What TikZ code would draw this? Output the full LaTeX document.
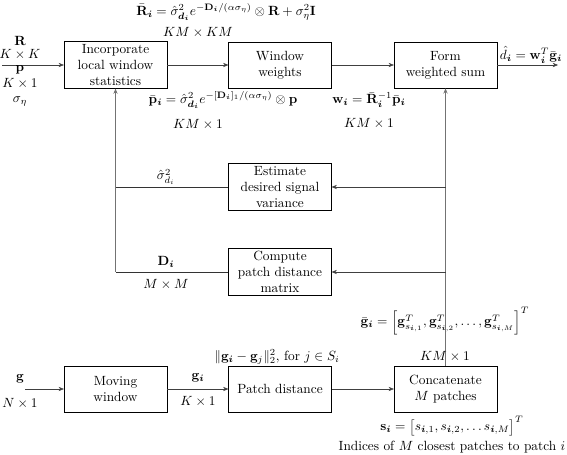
\documentclass[tikz,border=0pt]{standalone}
\usepackage{amsmath,amssymb}
\usetikzlibrary{arrows.meta}

\newcommand{\vi}{\boldsymbol{i}}

\begin{document}
\begin{tikzpicture}[
    x=0.75pt, y=-0.75pt,
    block/.style={draw, minimum width=77pt, minimum height=34.5pt, inner sep=2pt, align=center},
    lbl/.style={inner sep=0.5pt},
    arrow/.style={-{Stealth[length=4pt,width=3.2pt]}, draw=black!75},
    feed/.style={draw=black!55, line width=0.9pt}
]
    \useasboundingbox (0,0) rectangle (567,454);

    % Blocks
    \node[block] (incorporate) at (115.5,65) {Incorporate\\local window\\statistics};
    \node[block] (weights) at (280,65) {Window\\weights};
    \node[block] (sum) at (445.5,65) {Form\\weighted sum};
    \node[block] (estimate) at (280,187) {Estimate\\desired signal\\variance};
    \node[block] (compute) at (280,272) {Compute\\patch distance\\matrix};
    \node[block] (moving) at (115.5,389) {Moving\\window};
    \node[block] (patchdist) at (280,389) {Patch distance};
    \node[block] (concat) at (445.5,389) {Concatenate\\$M$ patches};
    \coordinate (input) at (2,65);
    \coordinate (output) at (558,65);
    \coordinate (ginput) at (25,389);

    % Arrows
    \draw[arrow] (input) -- (incorporate);
    \draw[arrow] (incorporate) -- (weights);
    \draw[arrow] (weights) -- (sum);
    \draw[arrow] (sum) -- (output);
    \draw[arrow] (ginput) -- (moving);
    \draw[arrow] (moving) -- (patchdist);
    \draw[arrow] (patchdist) -- (concat);

    % Feedback paths
    \draw[arrow, feed] (concat.north) -- (sum.south);
    \draw[arrow] (estimate.east -| sum.south) -- (estimate.east);
    \draw[arrow] (compute.east -| sum.south) -- (compute.east);
    \draw[black!80] (estimate.west) -- (estimate.west -| incorporate.south);
    \draw[black!80] (compute.west) -- (compute.west -| incorporate.south);
    \draw[arrow, feed] (compute.west -| incorporate.south) -- (incorporate.south);

    % Input labels
    \node[lbl] at (20,41) {$\mathbf{R}$};
    \node[lbl] at (20,54) {$K \times K$};
    \node[lbl] at (20,70) {$\mathbf{p}$};
    \node[lbl] at (20,83) {$K \times 1$};
    \node[lbl] at (20,102) {$\sigma_\eta$};
    \node[lbl] at (20,379) {$\mathbf{g}$};
    \node[lbl] at (20,403) {$N \times 1$};

    % Top row labels
    \node[lbl] at (226,12) {$\bar{\mathbf{R}}_{\vi} = \hat{\sigma}^2_{\boldsymbol{d_i}} e^{-\mathbf{D}_{\vi}/(\alpha\sigma_\eta)} \otimes \mathbf{R} + \sigma_\eta^2\mathbf{I}$};
    \node[lbl] at (198,32) {$KM \times KM$};
    \node[lbl] at (223,100) {$\bar{\mathbf{p}}_{\vi} = \hat{\sigma}^2_{\boldsymbol{d_i}} e^{-[\mathbf{D}_{\vi}]_1/(\alpha\sigma_\eta)} \otimes \mathbf{p}$};
    \node[lbl] at (198,124) {$KM \times 1$};
    \node[lbl] at (369,100) {$\mathbf{w}_{\vi} = \bar{\mathbf{R}}_{\vi}^{-1}\bar{\mathbf{p}}_{\vi}$};
    \node[lbl] at (369,123) {$KM \times 1$};
    \node[lbl] at (531,55) {$\hat{d}_{\vi} = \mathbf{w}_{\vi}^T \bar{\mathbf{g}}_{\vi}$};

    % Middle labels
    \node[lbl] at (166,177) {$\hat{\sigma}^2_{d_i}$};
    \node[lbl] at (166,262) {$\mathbf{D}_{\vi}$};
    \node[lbl] at (166,284) {$M \times M$};

    % Bottom row labels
    \node[lbl] at (198,378) {$\mathbf{g}_{\vi}$};
    \node[lbl] at (198,401) {$K \times 1$};
    \node[lbl] at (277,357) {$\|\mathbf{g}_{\vi} - \mathbf{g}_{j}\|_2^2$, for $j \in S_i$};
    \node[lbl] at (445,321) {$\bar{\mathbf{g}}_{\vi} = \left[\mathbf{g}^T_{s_{\vi,1}}, \mathbf{g}^T_{s_{\vi,2}}, \ldots, \mathbf{g}^T_{s_{\vi,M}}\right]^T$};
    \node[lbl] at (445,356) {$KM \times 1$};
    \node[lbl] at (452,426) {$\mathbf{s}_{\vi} = \bigl[s_{\vi,1}, s_{\vi,2}, \ldots s_{\vi,M}\bigr]^T$};
    \node[lbl] at (452,447) {Indices of $M$ closest patches to patch $i$};
\end{tikzpicture}
\end{document}
